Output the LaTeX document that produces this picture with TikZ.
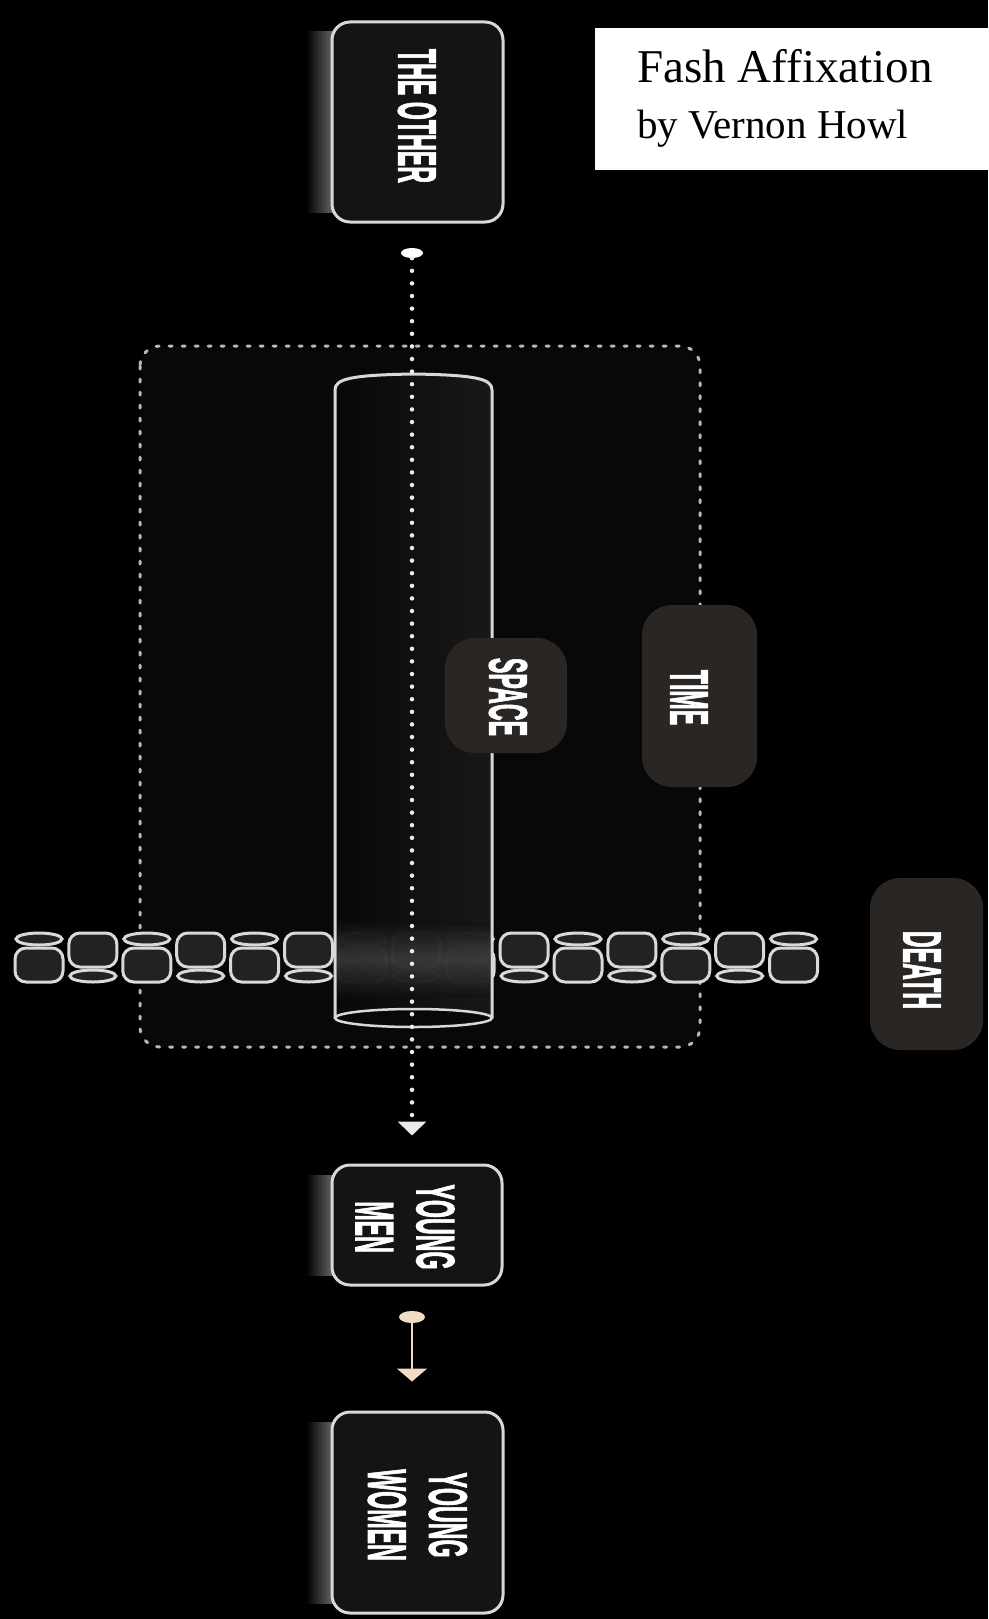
\documentclass[tikz,border=0pt]{standalone}
\usepackage{fontspec}
\usepackage{graphicx}
\setmainfont{Liberation Serif}
\newfontfamily\lblf[FakeBold=2.2]{Liberation Sans Bold}
\usetikzlibrary{shapes.geometric,arrows.meta}
\definecolor{frm}{HTML}{080808}
\definecolor{boxfill}{HTML}{141414}
\definecolor{pill}{HTML}{2A2623}
\definecolor{edge}{HTML}{D8D8D8}
\definecolor{peach}{HTML}{F0DCC6}
\definecolor{linkfill}{HTML}{222222}
\newcommand{\lbl}[1]{\rotatebox{-90}{\scalebox{0.43}[1]{\lblf\fontsize{54}{61}\selectfont #1}}}
\newcommand{\chlink}[2]{%
  \pgfmathsetmacro{\xa}{15+53.9*#1}%
  \pgfmathsetmacro{\xc}{\xa+24}%
  \ifodd#1
    \draw[#2] (\xc,976) ellipse[x radius=23pt, y radius=6pt];
    \draw[#2, rounded corners=11pt] (\xa,933) rectangle ++(48,34);
  \else
    \draw[#2] (\xc,939) ellipse[x radius=23pt, y radius=6pt];
    \draw[#2, rounded corners=11pt] (\xa,948) rectangle ++(48,34);
  \fi}
\tikzset{
  obox/.style={draw=edge, line width=3pt, fill=boxfill, rounded corners=18pt, inner sep=0pt},
  pillbox/.style={fill=pill, rounded corners=30pt, inner sep=0pt},
  lbltext/.style={inner sep=0pt, text=white},
  dotline/.style={draw=white!92!black, line width=4.5pt, line cap=round, dash pattern=on 0pt off 12.6pt},
  frame/.style={draw=white!72!black, fill=frm, line width=3pt, rounded corners=20pt, line cap=round, dash pattern=on 3pt off 10pt},
  link/.style={draw=white!85!black, line width=3pt, fill=linkfill},
  glow/.style={left color=black, right color=white!50!black}
}
\begin{document}
\begin{tikzpicture}[x=1pt,y=-1pt]
\useasboundingbox (0,0) rectangle (988,1619);
\fill[black] (0,0) rectangle (988,1619);

% title
\node[fill=white, minimum width=393pt, minimum height=142pt, inner sep=0pt, anchor=north west] (titlebox) at (595,28) {};
\node[anchor=base west, inner sep=0pt, font=\fontsize{47}{50}\selectfont] (title) at (637,82) {Fash Affixation};
\node[anchor=base west, inner sep=0pt, font=\fontsize{41}{44}\selectfont] (author) at (637,138) {by Vernon Howl};

% frame
\draw[frame] (140,346) rectangle (700,1047);

% chain
\foreach \k in {0,...,14}{\chlink{\k}{link}}

% cylinder
\fill[left color=white!4!black, right color=white!12!black, opacity=0.8]
  (335,1018) -- (335,390) .. controls (335,379) and (350,375) .. (413.5,374)
  .. controls (477,375) and (492,379) .. (492,390) -- (492,1018)
  arc[start angle=0, end angle=180, x radius=78.5pt, y radius=9pt] -- cycle;
\shade[top color=white!6!black, bottom color=white!6!black, middle color=white!40!black, opacity=0.45] (337,922) rectangle (490,996);
\draw[edge, line width=3pt]
  (335,1018) -- (335,390) .. controls (335,379) and (350,375) .. (413.5,374)
  .. controls (477,375) and (492,379) .. (492,390) -- (492,1018);
\draw[edge, line width=2.5pt] (413.5,1018) ellipse[x radius=78.5pt, y radius=9pt];

% boxes
\shade[glow] (306,32) rectangle (340,212);
\node[obox, minimum width=171pt, minimum height=200pt] (other) at (417.5,122) {};
\node[lbltext] (otherlbl) at (417,116) {\lbl{THE OTHER}};

\shade[glow] (306,1175) rectangle (340,1275);
\node[obox, minimum width=170pt, minimum height=120pt] (men) at (417,1225) {};
\node[lbltext] (menlbl) at (398.5,1227) {\lbl{\begin{tabular}{@{}c@{}}YOUNG\\MEN\end{tabular}}};

\shade[glow] (306,1422) rectangle (340,1603);
\node[obox, minimum width=171pt, minimum height=201pt] (women) at (417.5,1512.5) {};
\node[lbltext] (womenlbl) at (411,1515) {\lbl{\begin{tabular}{@{}c@{}}YOUNG\\WOMEN\end{tabular}}};

% pills
\node[pillbox, minimum width=122pt, minimum height=115pt] (space) at (506,695.5) {};
\node[lbltext] (spacelbl) at (508,697) {\lbl{SPACE}};
\node[pillbox, minimum width=115pt, minimum height=182pt] (time) at (699.5,696) {};
\node[lbltext] (timelbl) at (689,697.5) {\lbl{TIME}};
\node[pillbox, minimum width=113pt, minimum height=172pt] (death) at (926.5,964) {};
\node[lbltext] (deathlbl) at (922,970) {\lbl{DEATH}};

% connectors
\node[ellipse, fill=white, minimum width=22pt, minimum height=10pt, inner sep=0pt] (dotA) at (412,253) {};
\draw[dotline, -{Triangle[width=28pt,length=14pt]}, shorten >=28pt] (dotA.south) -- (dotA.south |- men.north);
\node[ellipse, fill=peach, minimum width=26pt, minimum height=12pt, inner sep=0pt] (dotB) at (412,1317) {};
\draw[peach, line width=2.2pt, -{Triangle[width=30pt,length=13pt]}, shorten >=29pt] (dotB.south) -- (dotB.south |- women.north);
\end{tikzpicture}
\end{document}
